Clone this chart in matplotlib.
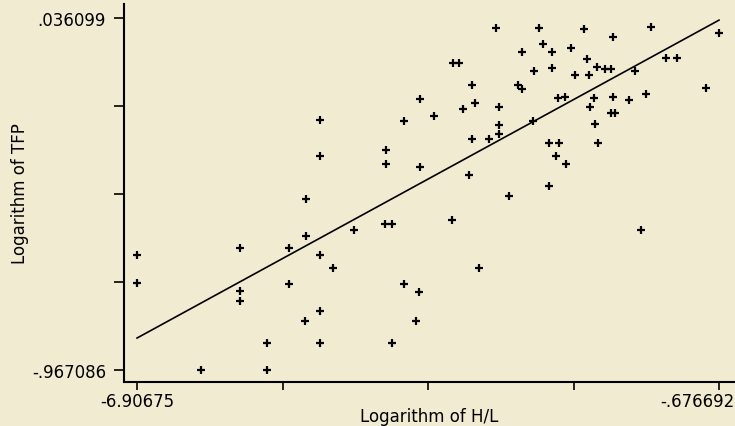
import matplotlib
matplotlib.use('Agg')
import matplotlib.pyplot as plt
import matplotlib.transforms as mtransforms
import numpy as np

# logarithm of H/L (x) and logarithm of TFP (y)
log_hl = [-6.907, -6.907, -6.222, -5.801, -5.801, -5.801, -5.510, -5.510,
          -5.285, -5.285, -5.103, -5.103, -5.105, -4.951, -4.953, -4.951,
          -4.945, -4.945, -4.812, -4.589, -4.241, -4.241, -4.247, -4.177,
          -4.177, -4.049, -4.049, -3.923, -3.885, -3.877, -3.877, -3.724,
          -3.532, -3.524, -3.457, -3.417, -3.321, -3.294, -3.321, -3.350,
          -3.246, -3.136, -3.067, -3.032, -3.032, -3.032, -2.925, -2.831,
          -2.785, -2.785, -2.662, -2.664, -2.604, -2.561, -2.500, -2.496,
          -2.468, -2.468, -2.418, -2.397, -2.386, -2.325, -2.314, -2.261,
          -2.218, -2.122, -2.093, -2.068, -2.054, -2.012, -2.004, -1.986,
          -1.972, -1.897, -1.833, -1.833, -1.808, -1.808, -1.790, -1.637,
          -1.573, -1.508, -1.458, -1.405, -1.249, -1.129, -0.816, -0.677]
log_tfp = [-0.639, -0.720, -0.967, -0.620, -0.743, -0.771, -0.891, -0.967,
           -0.620, -0.722, -0.480, -0.584, -0.827, -0.800, -0.891, -0.639,
           -0.255, -0.356, -0.676, -0.567, -0.339, -0.379, -0.552, -0.552,
           -0.891, -0.258, -0.723, -0.828, -0.746, -0.196, -0.388, -0.243,
           -0.540, -0.092, -0.092, -0.223, -0.156, -0.206, -0.310, -0.411,
           -0.676, -0.310, 0.008, -0.218, -0.269, -0.295, -0.471, -0.155,
           -0.165, -0.061, -0.116, -0.257, 0.008, -0.038, -0.444, -0.320,
           -0.061, -0.107, -0.356, -0.192, -0.320, -0.190, -0.380, -0.049,
           -0.125, 0.006, -0.081, -0.125, -0.218, -0.192, -0.266, -0.103,
           -0.320, -0.108, -0.108, -0.235, -0.017, -0.188, -0.235, -0.198,
           -0.116, -0.567, -0.180, 0.011, -0.077, -0.079, -0.164, -0.008]

# fitted regression line end points
fit_x = [-6.90675, -0.676692]
fit_y = [-0.876, 0.030]

x_ticks = np.linspace(-6.90675, -0.676692, 5)
y_ticks = np.linspace(-0.967086, 0.036099, 5)
x_ticklabels = ['-6.90675', '', '', '', '-.676692']
y_ticklabels = ['-.967086', '', '', '', '.036099']

bg = '#f1ebd2'
fig = plt.figure(figsize=(7.35, 4.27), dpi=100)
fig.patch.set_facecolor(bg)
ax = fig.add_axes([0.1687, 0.103, 0.8313, 0.8853])
ax.set_facecolor(bg)

ax.plot(fit_x, fit_y, color='black', lw=1.2)
ax.plot(log_hl, log_tfp, '+', color='black', markersize=6, markeredgewidth=1.6)

ax.set_xlim(-7.046, -0.5055)
ax.set_ylim(-1.0013, 0.076)

for s in ['top', 'right']:
    ax.spines[s].set_visible(False)
for s in ['left', 'bottom']:
    ax.spines[s].set_linewidth(1.5)

ax.set_xticks(x_ticks)
ax.set_xticklabels(x_ticklabels)
ax.set_yticks(y_ticks)
ax.set_yticklabels(y_ticklabels)
ax.tick_params(axis='x', length=6, width=1.2, pad=1.5, labelsize=12)
ax.tick_params(axis='y', length=7, width=1.2, pad=6, labelsize=12)

last = ax.get_xticklabels()[-1]
last.set_ha('right')
last.set_transform(last.get_transform() + mtransforms.ScaledTranslation(0.15, 0, fig.dpi_scale_trans))

ax.set_xlabel('Logarithm of H/L', fontsize=12)
ax.set_ylabel('Logarithm of TFP', fontsize=12)
ax.xaxis.set_label_coords(0.5, -0.066)
ax.yaxis.set_label_coords(-0.155, 0.5)

fig.savefig('out.png', dpi=100, facecolor=bg)
